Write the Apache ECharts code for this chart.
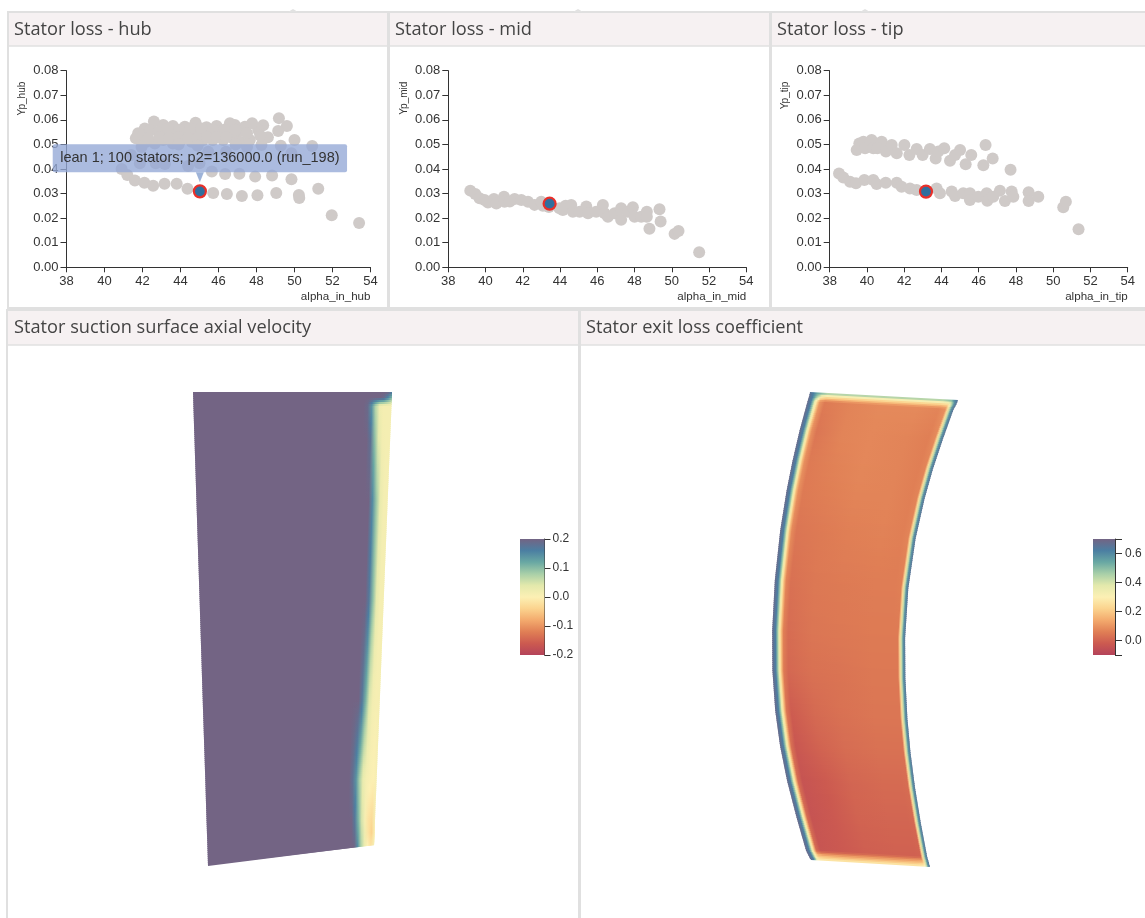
<!DOCTYPE html>
<html>
<head>
<meta charset="utf-8">
<style>html,body{margin:0;padding:0;background:#fff}#chart{width:1145px;height:918px}</style>
<script src="https://cdn.jsdelivr.net/npm/echarts@6/dist/echarts.min.js"></script>
</head>
<body>
<div id="chart"></div>
<script>
// ---------- scatter data (alpha_in, Yp) ----------
const hubPoints = [[40.9,.04],[41.2,.0376],[41.6,.0353],[42.1,.0344],[42.56,.0332],[43.16,.034],[43.8,.034],[44.37,.032],[45.72,.0302],[46.44,.0298],[47.23,.029],[48.05,.0293],[49.04,.0302],[50.25,.0282],[50.23,.0294],[51.25,.032],[51.96,.0212],[53.4,.018],
[45.65,.039],[46.35,.038],[47.1,.0381],[47.93,.0369],[48.82,.0374],[49.84,.0358],
[41.4,.0457],[41.86,.0423],[42.7,.0423],[43.18,.042],[44.4,.0412],[45,.0423],[45.46,.047],[46.4,.047],[47.5,.049],[48.26,.0498],[49.28,.0495],[50.93,.0494],[49.84,.0464],[50,.0518],[48.6,.0529],
[49.18,.0607],[49.6,.0575],[49.14,.0555],[48.35,.0578],[48.09,.0559],[47.77,.0586],[47.39,.0572],[46.86,.0579],[46.6,.0586],[45.9,.0575],[45.37,.057],[44.79,.0588],[44.23,.0572],[43.6,.0575],[43.09,.0579],[42.6,.0593],[42.12,.0565],[41.77,.0545],[41.65,.0525],
[42.04,.0538],[42.39,.0559],[42.82,.0552],[43.26,.0545],[43.7,.0545],[44.14,.0538],[44.58,.0545],[45.02,.0538],[45.54,.0545],[46.07,.0545],[46.6,.0538],[47.04,.0552],
[42.2,.0511],[42.65,.0504],[43.09,.0518],[43.6,.0504],[44.05,.0518],[44.58,.0511],[45.19,.0518],[45.7,.0518],[46.25,.0518],[46.77,.0525],[47.12,.0511],[47.65,.0518],
[43.35,.0565],[43.95,.056],[44.5,.0565],[45.1,.0565],[45.7,.056],[46.3,.056],[46.9,.056],[47.5,.0545],[48.2,.0535],[42.3,.0525],[42.9,.053],[43.4,.0525],[43.9,.053],[44.4,.0525],[44.9,.0525],[45.4,.053],[45.9,.053],[46.4,.053],[41.95,.049],[43.9,.05],[44.9,.0495],[46.9,.05]];
const hubSelected = [[45.02,.0309]];
const midPoints = [[39.18,.0312],[39.45,.0298],[39.68,.0281],[39.95,.0274],[40.13,.0264],[40.45,.0278],[40.58,.026],[40.99,.0287],[41.02,.0267],[41.3,.0268],[41.56,.0278],[41.92,.0274],[42.28,.0267],[42.63,.0254],[43.08,.025],[42.99,.0267],[43.4,.0245],[43.97,.024],[44.15,.0233],[44.3,.025],[44.6,.0254],[44.69,.0226],[45.05,.0226],[45.41,.0247],[45.5,.022],[45.94,.0226],[46.3,.0254],[46.39,.022],[46.57,.0206],[46.93,.022],[47.28,.024],[47.28,.0193],[47.64,.0226],[47.91,.0244],[48,.0206],[48.36,.0206],[48.66,.0226],[48.66,.0206],[49.34,.0236],[49.4,.0186],[48.8,.0157],[50.15,.0136],[50.36,.0148],[51.47,.0061]];
const midSelected = [[43.44,.0259]];
const tipPoints = [[39.45,.0477],[39.59,.0504],[39.81,.0511],[39.9,.0484],[40.25,.0518],[40.34,.0484],[40.79,.0511],[40.56,.0484],[41.02,.0471],[41.33,.0498],[41.6,.0464],[42.01,.0498],[42.28,.0457],[42.67,.0481],[42.99,.0457],[43.38,.0481],[43.69,.0443],[43.83,.0471],[44.15,.0484],[44.46,.0434],[44.73,.0457],[45,.0477],[45.3,.0419],[45.6,.0457],[46.25,.0415],[46.37,.0498],[46.75,.0443],[47.71,.0397],
[38.5,.0382],[38.73,.0365],[39.09,.0348],[39.41,.0342],[39.86,.0355],[40.34,.0355],[40.52,.0339],[41.01,.0344],[41.6,.0344],[41.86,.0328],[42.31,.0321],[42.67,.0315],[43.74,.0321],[43.92,.0301],[44.55,.0308],[44.73,.029],[45.17,.0301],[45.53,.0301],[45.53,.0274],[45.98,.0287],[46.43,.0301],[46.46,.0271],[46.78,.0287],[47.14,.0312],[47.41,.027],[47.77,.0308],[47.86,.0287],[48.68,.0305],[48.68,.027],[49.2,.0287],[50.54,.0244],[50.68,.0267],[51.36,.0155]];
const tipSelected = [[43.17,.0308]];

// ---------- axis ticks ----------
const alphaTicks = {min:38,max:54,interval:2};
const lossTicks = {min:0,max:0.08,interval:0.01};
const velocityRange = [-0.2,0.2];
const velocityTicks = [-0.2,-0.1,0,0.1,0.2];
const exitRange = [-0.1,0.7];
const exitTickMarks = [-0.1,0,0.2,0.4,0.6,0.7];
const exitTickLabels = [0,0.2,0.4,0.6];

// ---------- colour scale, low to high ----------
const palette = ['#b4435a','#cc5a50','#e07f55','#f3aa6d','#fbd38e','#fcf0b4','#e3e9ac','#a8cfa8','#69a8a3','#4b7fa2','#736484'];

// ---------- suction-surface field: edge of each span station, and value at each chord fraction ----------
const suctionLeftX  = [0,.2,.4,1.5,3.4,6.6,9.7,12.3,13.5,14,15];
const suctionLeftY  = [0,6,14,48,108,208,308,388,428,442,474];
const suctionRightX = [199,199,198.5,197.1,194.7,190.7,186.8,183.6,182,181.9,181];
const suctionRightY = [0,6,14,48,108,208,308,388,428,440,453];
const suctionChord  = [0,.80,.82,.84,.86,.88,.90,.92,.94,.96,.98,1];
const suctionField = [
 [.2,.2,.2,.2,.2,.2,.2,.2,.2,.2,.2,.17],
 [.2,.2,.2,.2,.2,.2,.2,.2,.2,.19,.15,.1],
 [.2,.2,.2,.2,.2,.19,.14,.07,.02,.012,.012,.012],
 [.2,.2,.2,.2,.2,.2,.18,.1,.04,.015,.012,.012],
 [.2,.2,.2,.2,.2,.2,.2,.15,.09,.03,.012,.012],
 [.2,.2,.2,.2,.2,.2,.2,.17,.1,.035,.012,.012],
 [.2,.2,.2,.2,.2,.2,.17,.11,.045,.015,.01,.012],
 [.2,.2,.2,.2,.18,.14,.08,.03,.012,.005,0,.01],
 [.2,.2,.2,.2,.2,.17,.11,.05,.01,-.02,-.03,.01],
 [.2,.2,.2,.2,.2,.18,.12,.06,.02,-.02,-.04,.005],
 [.2,.2,.2,.2,.2,.2,.15,.08,.03,0,-.02,.01]
];

// ---------- exit loss field ----------
const exitLeftX  = [38,37,35.5,27.6,20.6,14.6,8.2,2.8,.2,.4,3.2,8,15,24,34,36.5,38,39];
const exitLeftY  = [0,4,9,38,68,98,138,188,238,278,318,353,388,423,458,463,466,468];
const exitRightX = [186,184.3,181.5,171.1,161.1,152.6,143.6,136.3,133.1,133.4,135.4,138.5,143,148.7,155.3,156.8,157.5,158];
const exitRightY = [8,12,17,46,76,106,146,196,246,286,326,360,395,430,465,470,473,475];
const exitChord  = [0,.025,.04,.05,.06,.07,.085,.12,.3,.5,.75,.9,.945,.96,.972,.985,1];
const exitField = [
 [.65,.62,.58,.55,.55,.55,.55,.5,.5,.5,.5,.5,.55,.55,.6,.62,.65],
 [.68,.62,.55,.5,.45,.4,.3,.26,.26,.26,.26,.26,.28,.35,.45,.58,.65],
 [.68,.62,.48,.36,.28,.2,.1,.05,.07,.08,.08,.07,.09,.24,.42,.58,.65],
 [.68,.62,.48,.36,.26,.17,.09,.04,.07,.075,.07,.06,.08,.24,.42,.58,.65],
 [.68,.62,.48,.36,.26,.17,.09,.05,.065,.075,.07,.06,.07,.24,.42,.58,.65],
 [.68,.62,.48,.36,.26,.17,.09,.05,.06,.07,.07,.06,.07,.24,.42,.58,.65],
 [.68,.62,.48,.36,.26,.17,.08,.04,.05,.06,.065,.06,.07,.24,.42,.58,.65],
 [.68,.62,.48,.36,.26,.17,.07,.03,.045,.05,.055,.055,.06,.24,.42,.58,.65],
 [.68,.62,.48,.36,.26,.17,.06,.02,.04,.045,.05,.05,.05,.24,.42,.58,.65],
 [.68,.62,.48,.36,.26,.17,.05,.01,.03,.035,.045,.045,.045,.24,.42,.58,.65],
 [.68,.62,.48,.36,.26,.17,.04,-.015,.015,.03,.04,.04,.04,.24,.42,.58,.65],
 [.68,.62,.48,.36,.26,.17,.03,-.03,0,.02,.03,.03,.03,.24,.42,.58,.65],
 [.68,.62,.48,.36,.26,.17,.02,-.04,-.02,.005,.015,.015,.02,.24,.42,.58,.65],
 [.68,.62,.48,.36,.26,.17,.02,-.04,-.025,0,.005,.005,.01,.24,.42,.58,.65],
 [.68,.62,.48,.36,.26,.17,.02,-.035,-.025,-.01,-.005,-.005,0,.24,.42,.58,.65],
 [.68,.62,.48,.36,.28,.22,.18,.16,.14,.14,.14,.15,.16,.24,.42,.58,.65],
 [.68,.62,.5,.38,.3,.27,.25,.24,.23,.23,.23,.23,.25,.28,.42,.58,.65],
 [.68,.62,.5,.4,.34,.31,.3,.3,.29,.29,.29,.29,.3,.32,.42,.58,.65]
];

const titleNames = ['Stator loss - hub','Stator loss - mid','Stator loss - tip','Stator suction surface axial velocity','Stator exit loss coefficient'];
const xNames = ['alpha_in_hub','alpha_in_mid','alpha_in_tip'];
const yNames = ['Yp_hub','Yp_mid','Yp_tip'];
const tooltipText = 'lean 1; 100 stators; p2=136000.0 (run_198)';

// ---------- layout ----------
const TEXT = '#333';
const FONT = '"Liberation Sans", Arial, sans-serif';
const scatterGrids = [
  {left:66.5,top:70.7,width:304,height:196.6},
  {left:448.3,top:70.7,width:298,height:196.6},
  {left:829.7,top:70.7,width:298,height:196.6}
];
const panels = [
  {x:8,y:12,w:380,h:296,head:34},
  {x:389,y:12,w:381,h:296,head:34},
  {x:771,y:12,w:380,h:296,head:34},
  {x:7,y:310,w:572,h:620,head:35},
  {x:580,y:310,w:570,h:620,head:35}
];
const titlePos = [[14,21],[395,21],[777,21],[14,319],[586,319]];

const graphics = [];
panels.forEach(p=>{
  graphics.push({type:'rect',z:0,silent:true,shape:{x:p.x,y:p.y,width:p.w,height:p.h},style:{fill:'#fff',stroke:'#e0e0e0',lineWidth:2}});
  graphics.push({type:'rect',z:0,silent:true,shape:{x:p.x+1,y:p.y+1,width:p.w-2,height:p.head-1},style:{fill:'#f6f1f2',stroke:null}});
  graphics.push({type:'line',z:0,silent:true,shape:{x1:p.x,y1:p.y+p.head,x2:p.x+p.w,y2:p.y+p.head},style:{stroke:'#e0e0e0',lineWidth:1.5}});
});
[293,578,865].forEach(x=>graphics.push({type:'polygon',z:0,silent:true,shape:{points:[[x-5,12],[x,9],[x+5,12]]},style:{fill:'#e2e2e2'}}));

// ---------- helpers ----------
function colourOf(v,range){
  const t=Math.max(0,Math.min(1,(v-range[0])/(range[1]-range[0])));
  return echarts.color.lerp(t,palette);
}
function fieldRender(leftX,leftY,rightX,rightY,chord,field,range){
  return function(params,api){
    const i=api.value(0);
    const L0=api.coord([leftX[i],leftY[i]]),R0=api.coord([rightX[i],rightY[i]]);
    const L1=api.coord([leftX[i+1],leftY[i+1]]),R1=api.coord([rightX[i+1],rightY[i+1]]);
    const steps=Math.max(1,Math.ceil((L1[1]-L0[1])/2));
    const children=[];
    for(let s=0;s<steps;s++){
      const a=s/steps,b=(s+1)/steps;
      const mix=(p,q,t)=>[p[0]+(q[0]-p[0])*t,p[1]+(q[1]-p[1])*t];
      const la=mix(L0,L1,a),ra=mix(R0,R1,a),lb=mix(L0,L1,b),rb=mix(R0,R1,b);
      const last=(i===field.length-2&&s===steps-1);
      const lo=last?lb:[lb[0],lb[1]+1],ro=last?rb:[rb[0],rb[1]+1];
      const m=(a+b)/2;
      const stops=chord.map((c,k)=>({offset:c,color:colourOf(field[i][k]+(field[i+1][k]-field[i][k])*m,range)}));
      children.push({type:'polygon',silent:true,shape:{points:[la,ra,ro,lo]},
        style:{fill:{type:'linear',x:(la[0]+lb[0])/2,y:0,x2:(ra[0]+rb[0])/2,y2:0,global:true,colorStops:stops}}});
    }
    return {type:'group',children};
  };
}
function barRender(range){
  return function(params,api){
    const a=api.coord([0,range[1]]),b=api.coord([1,range[0]]);
    const stops=palette.map((c,k)=>({offset:1-k/(palette.length-1),color:c})).reverse();
    return {type:'rect',silent:true,shape:{x:a[0],y:a[1],width:b[0]-a[0],height:b[1]-a[1]},
      style:{fill:{type:'linear',x:0,y:0,x2:0,y2:1,colorStops:stops}}};
  };
}
const axisLineStyle={onZero:false,lineStyle:{color:'#333',width:1}};
const xAxes=[],yAxes=[],grids=[],series=[];
scatterGrids.forEach((g,i)=>{
  grids.push(g);
  xAxes.push({gridIndex:i,type:'value',min:alphaTicks.min,max:alphaTicks.max,interval:alphaTicks.interval,splitLine:{show:false},
    axisLine:axisLineStyle,axisTick:{length:5,lineStyle:{color:'#333'}},axisLabel:{color:TEXT,fontFamily:FONT,fontSize:13,margin:8,showMinLabel:true,showMaxLabel:true,hideOverlap:false},
    name:xNames[i],nameLocation:'end',nameGap:0,nameTextStyle:{color:TEXT,fontFamily:FONT,fontSize:11.6,align:'right',verticalAlign:'top',padding:[23,0,0,0]}});
  yAxes.push({gridIndex:i,type:'value',min:lossTicks.min,max:lossTicks.max,interval:lossTicks.interval,splitLine:{show:false},
    axisLine:axisLineStyle,axisTick:{length:6,lineStyle:{color:'#333'}},axisLabel:{color:TEXT,fontFamily:FONT,fontSize:13,margin:8,formatter:v=>v.toFixed(2)},
    name:yNames[i],nameLocation:'end',nameRotate:90,nameGap:-11,nameTextStyle:{color:TEXT,fontFamily:FONT,fontSize:10,align:'right',verticalAlign:'bottom',padding:[0,0,39,0]}});
});
const gray='#cfcac8';
[[hubPoints,hubSelected],[midPoints,midSelected],[tipPoints,tipSelected]].forEach((d,i)=>{
  series.push({type:'scatter',xAxisIndex:i,yAxisIndex:i,data:d[0],symbolSize:12,itemStyle:{color:gray,opacity:1},silent:true,z:3});
  series.push({type:'scatter',xAxisIndex:i,yAxisIndex:i,data:d[1],symbolSize:12,itemStyle:{color:'#2f6f9e',borderColor:'#e8302a',borderWidth:2.2,opacity:1},silent:true,z:4,
    label:i===0?{show:true,position:'top',distance:12,formatter:tooltipText,fontFamily:FONT,fontSize:14.5,color:'#333',backgroundColor:'rgba(147,168,214,0.78)',padding:[6.5,7.5],borderRadius:2}:{show:false}});
});
series.push({type:'scatter',xAxisIndex:0,yAxisIndex:0,data:hubSelected,symbol:'triangle',symbolRotate:180,symbolSize:[8,10],symbolOffset:[0,-14],itemStyle:{color:'#9eb3d8',opacity:1},silent:true,z:5});

// blade fields
grids.push({left:193,top:392,width:199,height:474});
xAxes.push({gridIndex:3,type:'value',show:false,min:0,max:199});
yAxes.push({gridIndex:3,type:'value',show:false,min:0,max:474,inverse:true});
series.push({type:'custom',xAxisIndex:3,yAxisIndex:3,silent:true,clip:false,data:suctionField.slice(1).map((r,i)=>[i]),encode:{x:[],y:[]},
  renderItem:fieldRender(suctionLeftX,suctionLeftY,suctionRightX,suctionRightY,suctionChord,suctionField,velocityRange),z:2});
grids.push({left:772,top:392,width:186,height:475});
xAxes.push({gridIndex:4,type:'value',show:false,min:0,max:186});
yAxes.push({gridIndex:4,type:'value',show:false,min:0,max:475,inverse:true});
series.push({type:'custom',xAxisIndex:4,yAxisIndex:4,silent:true,clip:false,data:exitField.slice(1).map((r,i)=>[i]),encode:{x:[],y:[]},
  renderItem:fieldRender(exitLeftX,exitLeftY,exitRightX,exitRightY,exitChord,exitField,exitRange),z:2});

// colour bars
grids.push({left:520,top:539,width:24.5,height:116});
xAxes.push({gridIndex:5,type:'value',show:false,min:0,max:1});
yAxes.push({gridIndex:5,type:'value',position:'right',min:velocityRange[0],max:velocityRange[1],splitLine:{show:false},
  axisLine:axisLineStyle,axisTick:{length:6,lineStyle:{color:'#333'},customValues:velocityTicks},
  axisLabel:{color:TEXT,fontFamily:FONT,fontSize:12,margin:8,customValues:velocityTicks,formatter:v=>v.toFixed(1)}});
series.push({type:'custom',xAxisIndex:5,yAxisIndex:5,silent:true,data:[[0]],encode:{x:[],y:[]},renderItem:barRender(velocityRange),z:2});
grids.push({left:1093,top:539,width:22,height:116});
xAxes.push({gridIndex:6,type:'value',show:false,min:0,max:1});
yAxes.push({gridIndex:6,type:'value',position:'right',min:exitRange[0],max:exitRange[1],splitLine:{show:false},
  axisLine:axisLineStyle,axisTick:{length:7,lineStyle:{color:'#333'},customValues:exitTickMarks},
  axisLabel:{color:TEXT,fontFamily:FONT,fontSize:12,margin:10,customValues:exitTickLabels,formatter:v=>v.toFixed(1)}});
series.push({type:'custom',xAxisIndex:6,yAxisIndex:6,silent:true,data:[[0]],encode:{x:[],y:[]},renderItem:barRender(exitRange),z:2});

const chart=echarts.init(document.getElementById('chart'),null,{renderer:'canvas'});
chart.setOption({
  animation:false,
  backgroundColor:'#fff',
  title:titleNames.map((t,i)=>({text:t,left:titlePos[i][0],top:titlePos[i][1],padding:0,textStyle:{color:'#444',fontFamily:'"Open Sans", sans-serif',fontWeight:'normal',fontSize:18.2}})),
  graphic:{elements:graphics},
  grid:grids,xAxis:xAxes,yAxis:yAxes,series
});
</script>
</body>
</html>
